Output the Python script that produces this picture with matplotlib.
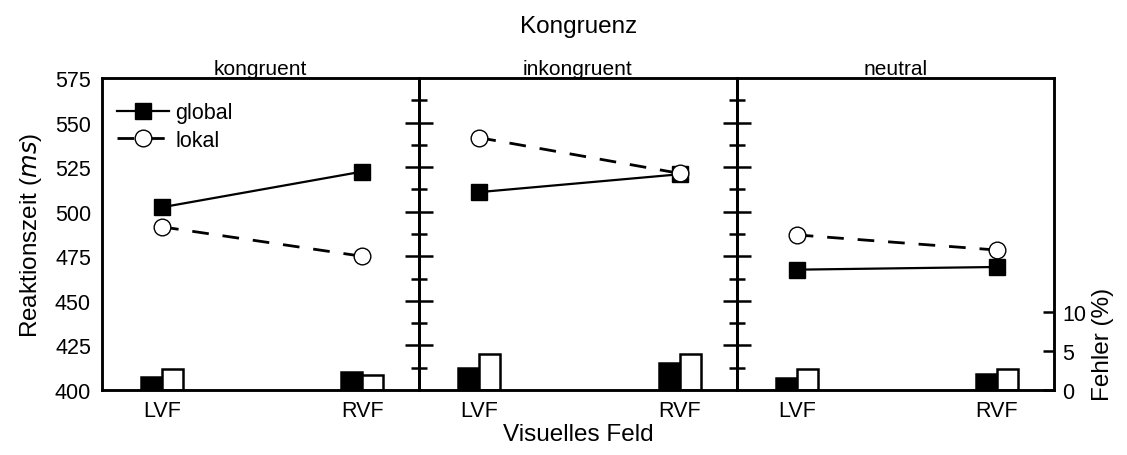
import numpy as np
import matplotlib
matplotlib.use("Agg")
import matplotlib.pyplot as plt

plt.rcParams['font.family'] = ['Liberation Sans', 'DejaVu Sans']

conditions = ['kongruent', 'inkongruent', 'neutral']
fields = ['LVF', 'RVF']

# reaction times (ms)
rt_global = [[502.5, 522.5], [511, 521], [467.5, 469]]
rt_lokal = [[491.5, 475], [541.5, 521.5], [487, 478.5]]

# error rates (%)
err_global = [[1.7, 2.3], [2.8, 3.5], [1.6, 2.05]]
err_lokal = [[2.7, 1.9], [4.6, 4.6], [2.7, 2.7]]

fig = plt.figure(figsize=(11.27, 4.56), dpi=100)
gs = fig.add_gridspec(1, 3, left=0.0905, right=0.9352, bottom=0.1425,
                      top=0.8268, wspace=0)
x = np.arange(len(fields))
bw = 0.105

for i, cond in enumerate(conditions):
    ax = fig.add_subplot(gs[0, i])
    ax2 = ax.twinx()
    ax.set_zorder(ax2.get_zorder() + 1)
    ax.patch.set_visible(False)

    ax2.bar(x - bw / 2, err_global[i], width=bw, color='black',
            edgecolor='black', linewidth=1.8)
    ax2.bar(x + bw / 2, err_lokal[i], width=bw, color='white',
            edgecolor='black', linewidth=1.8)
    ax2.set_ylim(0, 40)

    ax.plot(x, rt_global[i], '-', color='black', lw=1.6, marker='s',
            ms=11, mfc='black', mec='black', label='global')
    ax.plot(x, rt_lokal[i], color='black', lw=2, ls=(0, (6, 5)), marker='o',
            ms=12, mfc='white', mec='black', mew=1, label='lokal')

    ax.set_xlim(-0.3, 1.285)
    ax.set_ylim(400, 575)
    ax.set_xticks(x)
    ax.set_xticklabels(fields, fontsize=15.5)
    ax.tick_params(axis='x', length=0, pad=7)
    ax.set_title(cond, fontsize=15, pad=2)

    for a in (ax, ax2):
        for s in a.spines.values():
            s.set_linewidth(1.8)

    if i == 0:
        ax.set_yticks(np.arange(400, 576, 25))
        ax.tick_params(axis='y', length=0, labelsize=15.5, pad=8)
        ax.set_ylabel('Reaktionszeit ($\\mathit{ms}$)', fontsize=17.5,
                      labelpad=8)
        ax.legend(loc='upper left', frameon=False, fontsize=15.5,
                  handlelength=2.4, handletextpad=0.3, labelspacing=0.3,
                  borderaxespad=0.3, bbox_to_anchor=(0.0, 0.97))
    else:
        ax.set_yticks(np.arange(425, 551, 25))
        ax.set_yticks(np.arange(412.5, 563, 25), minor=True)
        ax.tick_params(axis='y', which='major', direction='inout', length=20,
                       width=1.8, labelleft=False)
        ax.tick_params(axis='y', which='minor', direction='inout', length=11,
                       width=1.8)

    if i == 2:
        ax2.set_yticks([0, 5, 10])
        ax2.tick_params(axis='y', direction='in', length=8, width=1.8,
                        labelsize=15.5, pad=6)
        ax2.set_ylabel('Fehler (%)', fontsize=17.5, y=0.15, labelpad=4)
    else:
        ax2.set_yticks([])

fig.text(0.513, 0.94, 'Kongruenz', ha='center', va='center', fontsize=17.5)
fig.text(0.513, 0.045, 'Visuelles Feld', ha='center', va='center',
         fontsize=17.5)

fig.savefig('out.png', dpi=100)
